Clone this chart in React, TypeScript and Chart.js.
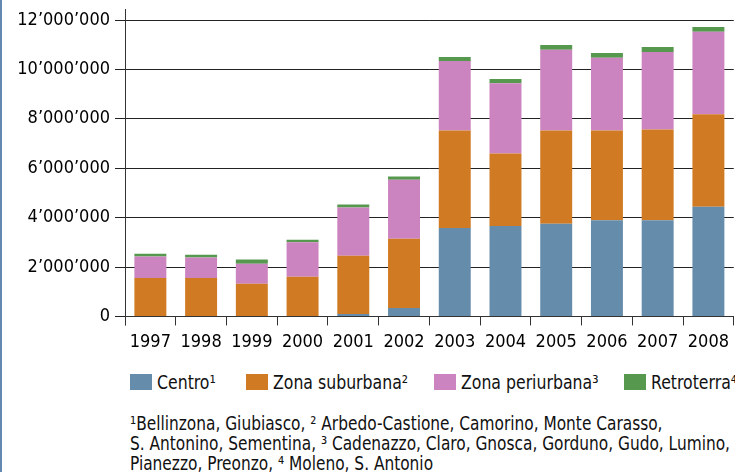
import React, { useEffect, useRef } from 'react';
import { Chart, registerables } from 'chart.js';

Chart.register(...registerables);

const years = ['1997', '1998', '1999', '2000', '2001', '2002', '2003', '2004', '2005', '2006', '2007', '2008'];
const centro = [0, 0, 0, 0, 100000, 340000, 3580000, 3660000, 3750000, 3890000, 3890000, 4440000];
const suburbana = [1550000, 1550000, 1320000, 1610000, 2360000, 2800000, 3950000, 2940000, 3780000, 3640000, 3680000, 3740000];
const periurbana = [880000, 830000, 810000, 1390000, 1950000, 2390000, 2810000, 2840000, 3270000, 2940000, 3130000, 3340000];
const retroterra = [110000, 120000, 170000, 100000, 120000, 130000, 160000, 170000, 190000, 190000, 210000, 200000];

const seriesLabels = ['Centro¹', 'Zona suburbana²', 'Zona periurbana³', 'Retroterra⁴'];
const seriesColors = ['#668cab', '#d07b23', '#cc84c0', '#56994e'];
const yMin = 0;
const yMax = 12000000;
const yStep = 2000000;

const footnoteLines = [
  '¹Bellinzona, Giubiasco, ² Arbedo-Castione, Camorino, Monte Carasso,',
  'S. Antonino, Sementina, ³ Cadenazzo, Claro, Gnosca, Gorduno, Gudo, Lumino,',
  'Pianezzo, Preonzo, ⁴ Moleno, S. Antonio',
];

const FONT = "'DejaVu Sans Condensed', 'Roboto', sans-serif";

const fmt = (v: number) => {
  const s = Math.round(v).toString();
  return s.replace(/\B(?=(\d{3})+(?!\d))/g, '\u2019');
};

const legendLeft = [130, 246, 434, 624];

export default function App() {
  const ref = useRef<HTMLCanvasElement | null>(null);

  useEffect(() => {
    if (!ref.current) return;
    const seriesData = [centro, suburbana, periurbana, retroterra];
    const axisExt = {
      id: 'axisExt',
      afterDraw(chart: any) {
        const { ctx, chartArea } = chart;
        ctx.save();
        ctx.strokeStyle = '#333';
        ctx.lineWidth = 1;
        ctx.beginPath();
        const x = Math.round(chartArea.left) + 0.5;
        ctx.moveTo(x, chartArea.top - 11);
        ctx.lineTo(x, chartArea.bottom + 9);
        ctx.stroke();
        ctx.restore();
      },
    };
    const chart = new Chart(ref.current, {
      type: 'bar',
      data: {
        labels: years,
        datasets: seriesData.map((d, i) => ({
          label: seriesLabels[i],
          data: d,
          backgroundColor: seriesColors[i],
          borderWidth: 0,
          barPercentage: 0.63,
          categoryPercentage: 1,
        })),
      },
      options: {
        responsive: false,
        animation: false,
        layout: { padding: { top: 20, left: 0, right: 0, bottom: 0 } },
        plugins: { legend: { display: false }, tooltip: { enabled: false } },
        scales: {
          x: {
            stacked: true,
            offset: true,
            grid: { offset: true, drawOnChartArea: false, drawTicks: true, tickLength: 9, color: '#333' },
            border: { display: true, color: '#333' },
            ticks: { font: { family: FONT, size: 18 }, color: '#000', padding: 6, maxRotation: 0, autoSkip: false },
          },
          y: {
            stacked: true,
            min: yMin,
            max: yMax,
            ticks: {
              stepSize: yStep,
              callback: (v: any) => fmt(Number(v)),
              font: { family: FONT, size: 18 },
              color: '#000',
              padding: 5,
            },
            grid: { color: '#222', tickLength: 10, lineWidth: 1 },
            border: { display: true, color: '#333' },
            afterFit: (scale: any) => {
              scale.width = 125;
            },
          },
        },
      },
      plugins: [axisExt],
    } as any);
    return () => chart.destroy();
  }, []);

  const textStyle: React.CSSProperties = { fontFamily: FONT, fontSize: 19, color: '#111', whiteSpace: 'nowrap' };
  const squeeze: React.CSSProperties = { display: 'inline-block', transform: 'scaleX(0.92)', transformOrigin: 'left center' };
  const squeezeNote: React.CSSProperties = { display: 'inline-block', transform: 'scaleX(0.9)', transformOrigin: 'left center' };

  return (
    <div style={{ position: 'fixed', left: 0, top: 0, width: 735, height: 472, background: '#fff', overflow: 'hidden' }}>
      <div style={{ position: 'absolute', left: 0, top: 0, width: 2, height: 472, background: '#6489b0' }} />
      <canvas ref={ref} width={735} height={359} style={{ position: 'absolute', left: 0, top: 0, display: 'block', width: 735, height: 359 }} />
      {seriesLabels.map((l, i) => (
        <div key={l} style={{ position: 'absolute', left: legendLeft[i], top: 372, height: 20, display: 'flex', alignItems: 'center', ...textStyle }}>
          <span style={{ display: 'inline-block', width: 22, height: 16, background: seriesColors[i], marginRight: 5, flex: 'none' }} />
          <span style={squeeze}>{l}</span>
        </div>
      ))}
      <div style={{ position: 'absolute', left: 130, top: 413, ...textStyle, lineHeight: '20px' }}>
        {footnoteLines.map((l) => (
          <div key={l}>
            <span style={squeezeNote}>{l}</span>
          </div>
        ))}
      </div>
    </div>
  );
}
